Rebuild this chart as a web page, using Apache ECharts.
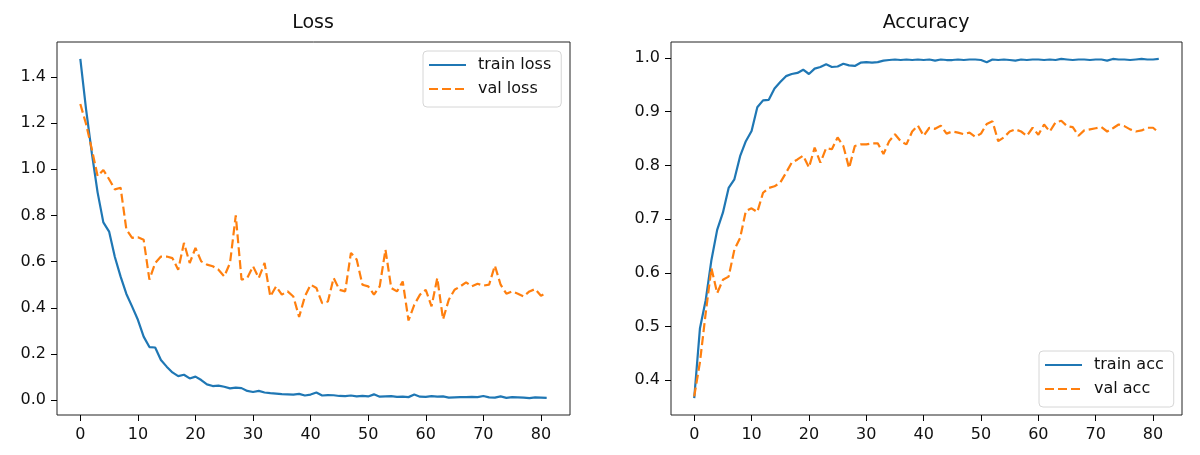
<!DOCTYPE html>
<html>
<head>
<meta charset="utf-8">
<script src="https://cdn.jsdelivr.net/npm/echarts@6/dist/echarts.min.js"></script>
<style>
  html, body { margin: 0; padding: 0; background: #fff; }
  #chart { width: 1200px; height: 455px; }
</style>
</head>
<body>
<div id="chart"></div>
<script>
// values, one per epoch (0..81)
var trainLoss = [1.478, 1.26, 1.07, 0.90, 0.77, 0.73, 0.62, 0.535, 0.46, 0.405,
    0.348, 0.275, 0.23, 0.228, 0.174, 0.145, 0.12, 0.104, 0.11, 0.094,
    0.102, 0.087, 0.068, 0.061, 0.063, 0.058, 0.051, 0.054, 0.052, 0.04,
    0.035, 0.04, 0.033, 0.03, 0.028, 0.026, 0.025, 0.024, 0.027, 0.02,
    0.024, 0.033, 0.02, 0.022, 0.021, 0.018, 0.017, 0.02, 0.016, 0.018,
    0.016, 0.025, 0.015, 0.016, 0.017, 0.014, 0.015, 0.013, 0.024, 0.015,
    0.014, 0.017, 0.015, 0.016, 0.011, 0.012, 0.013, 0.013, 0.014, 0.013,
    0.018, 0.012, 0.011, 0.016, 0.01, 0.013, 0.012, 0.011, 0.009, 0.012,
    0.011, 0.01];
var valLoss = [1.283, 1.196, 1.087, 0.971, 0.997, 0.957, 0.913, 0.92, 0.739, 0.703,
    0.706, 0.695, 0.522, 0.594, 0.622, 0.622, 0.615, 0.565, 0.681, 0.594,
    0.659, 0.601, 0.587, 0.58, 0.565, 0.536, 0.594, 0.80, 0.522, 0.529,
    0.58, 0.529, 0.594, 0.449, 0.493, 0.457, 0.471, 0.449, 0.36, 0.449,
    0.5, 0.486, 0.42, 0.427, 0.529, 0.478, 0.471, 0.638, 0.609, 0.5,
    0.493, 0.457, 0.493, 0.652, 0.486, 0.471, 0.514, 0.345, 0.413, 0.457,
    0.478, 0.406, 0.529, 0.35, 0.435, 0.478, 0.493, 0.51, 0.493, 0.504,
    0.496, 0.5, 0.583, 0.5, 0.461, 0.471, 0.461, 0.449, 0.471, 0.481,
    0.452, 0.464];
var trainAcc = [0.367, 0.497, 0.549, 0.624, 0.68, 0.712, 0.758, 0.774, 0.817, 0.845,
    0.864, 0.908, 0.921, 0.922, 0.943, 0.955, 0.966, 0.970, 0.972, 0.978,
    0.970, 0.980, 0.983, 0.988, 0.983, 0.984, 0.989, 0.986, 0.985, 0.991,
    0.992, 0.991, 0.992, 0.995, 0.996, 0.997, 0.996, 0.997, 0.996, 0.997,
    0.996, 0.997, 0.995, 0.997, 0.996, 0.996, 0.997, 0.996, 0.997, 0.997,
    0.996, 0.992, 0.997, 0.996, 0.997, 0.996, 0.995, 0.997, 0.996, 0.997,
    0.997, 0.996, 0.997, 0.996, 0.998, 0.997, 0.996, 0.997, 0.997, 0.996,
    0.997, 0.997, 0.995, 0.998, 0.997, 0.997, 0.996, 0.997, 0.998, 0.997,
    0.997, 0.998];
var valAcc = [0.37, 0.434, 0.525, 0.609, 0.562, 0.587, 0.593, 0.643, 0.665, 0.715,
    0.72, 0.713, 0.749, 0.758, 0.761, 0.768, 0.786, 0.805, 0.811, 0.818,
    0.796, 0.833, 0.805, 0.832, 0.830, 0.852, 0.836, 0.795, 0.836, 0.839,
    0.839, 0.841, 0.841, 0.821, 0.845, 0.858, 0.845, 0.839, 0.863, 0.874,
    0.855, 0.870, 0.868, 0.874, 0.859, 0.863, 0.861, 0.858, 0.861, 0.853,
    0.859, 0.877, 0.882, 0.845, 0.852, 0.863, 0.867, 0.863, 0.855, 0.870,
    0.857, 0.876, 0.863, 0.880, 0.883, 0.873, 0.871, 0.855, 0.865, 0.867,
    0.869, 0.871, 0.863, 0.869, 0.876, 0.873, 0.867, 0.863, 0.865, 0.870,
    0.870, 0.861];

var xTicks = [0, 10, 20, 30, 40, 50, 60, 70, 80];
var lossTicks = [0.0, 0.2, 0.4, 0.6, 0.8, 1.0, 1.2, 1.4];
var accTicks = [0.4, 0.5, 0.6, 0.7, 0.8, 0.9, 1.0];

var BLUE = '#1f77b4', ORANGE = '#ff7f0e';
var FONT = 'DejaVu Sans';

function pairs(arr) {
    return arr.map(function (v, i) { return [i, v]; });
}

// matplotlib style 5% margins
function pad(lo, hi) {
    var m = (hi - lo) * 0.05;
    return [lo - m, hi + m];
}
var xr = pad(0, trainLoss.length - 1);
var lossR = pad(Math.min.apply(null, trainLoss.concat(valLoss)), Math.max.apply(null, trainLoss.concat(valLoss)));
var accR = pad(Math.min.apply(null, trainAcc.concat(valAcc)), Math.max.apply(null, trainAcc.concat(valAcc)));

function xAxis(idx) {
    return {
        type: 'value', gridIndex: idx, min: xr[0], max: xr[1],
        axisLine: { show: false, onZero: false },
        splitLine: { show: false },
        axisTick: { show: true, length: 6, lineStyle: { color: '#000', width: 1 }, customValues: xTicks },
        axisLabel: { customValues: xTicks, color: '#111', fontFamily: FONT, fontSize: 16, margin: 12 }
    };
}
function yAxis(idx, r, ticks) {
    return {
        type: 'value', gridIndex: idx, min: r[0], max: r[1],
        axisLine: { show: false, onZero: false },
        splitLine: { show: false },
        axisTick: { show: true, length: 6, lineStyle: { color: '#000', width: 1 }, customValues: ticks },
        axisLabel: {
            customValues: ticks, color: '#111', fontFamily: FONT, fontSize: 16, margin: 11,
            formatter: function (v) { return v.toFixed(1); }
        }
    };
}
function line(name, data, idx, color, dashed) {
    return {
        name: name, type: 'line', xAxisIndex: idx, yAxisIndex: idx,
        data: pairs(data), symbol: 'none', animation: false,
        lineStyle: { color: color, width: 2.2, type: dashed ? [9, 4] : 'solid' },
        itemStyle: { color: color }
    };
}
function legend(names, left, top) {
    return {
        data: names, orient: 'vertical', left: left, top: top,
        itemWidth: 37, itemHeight: 18, itemGap: 6,
        padding: [5, 10, 9, 5],
        itemStyle: { opacity: 0 },
        borderColor: '#d6d6d6', borderWidth: 1, borderRadius: 4,
        backgroundColor: 'rgba(255,255,255,0.8)',
        textStyle: { fontFamily: FONT, fontSize: 16, color: '#111', lineHeight: 18, padding: [0, 0, 0, 7] }
    };
}

var mychart = echarts.init(document.getElementById('chart'));
var option = {
    backgroundColor: '#fff',
    animation: false,
    title: [
        { text: 'Loss', left: 313, top: 14, textAlign: 'center', padding: 0,
          textStyle: { fontFamily: FONT, fontSize: 19, fontWeight: 'normal', color: '#111' } },
        { text: 'Accuracy', left: 926, top: 14, textAlign: 'center', padding: 0,
          textStyle: { fontFamily: FONT, fontSize: 19, fontWeight: 'normal', color: '#111' } }
    ],
    legend: [
        legend(['train loss', 'val loss'], 423, 51),
        legend(['train acc', 'val acc'], 1039, 351)
    ],
    grid: [
        { left: 57, top: 42, width: 513, height: 373, show: true, borderColor: '#222', borderWidth: 1, backgroundColor: 'transparent' },
        { left: 671, top: 42, width: 511, height: 373, show: true, borderColor: '#222', borderWidth: 1, backgroundColor: 'transparent' }
    ],
    xAxis: [xAxis(0), xAxis(1)],
    yAxis: [yAxis(0, lossR, lossTicks), yAxis(1, accR, accTicks)],
    series: [
        line('train loss', trainLoss, 0, BLUE, false),
        line('val loss', valLoss, 0, ORANGE, true),
        line('train acc', trainAcc, 1, BLUE, false),
        line('val acc', valAcc, 1, ORANGE, true)
    ]
};
mychart.setOption(option);
</script>
</body>
</html>
